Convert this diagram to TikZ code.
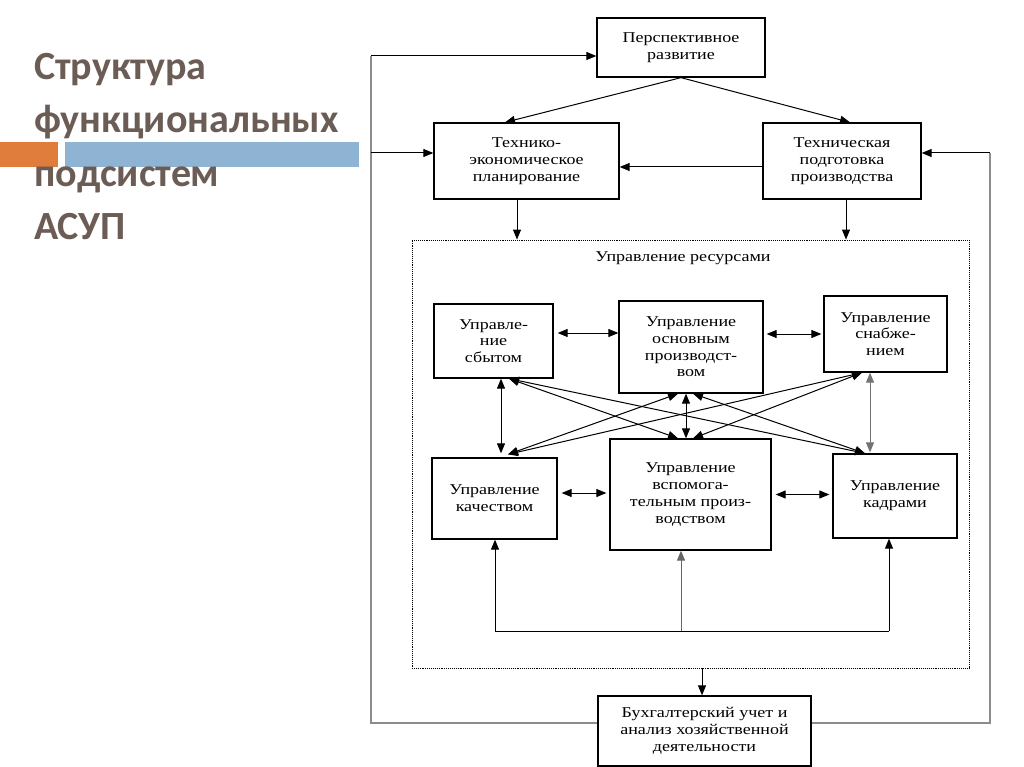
\documentclass[tikz,border=0pt]{standalone}
\usepackage{fontspec}
\setmainfont{Liberation Serif}
\newfontfamily\titlefont{Carlito}
\newfontfamily\boxfont{Liberation Serif}[FakeStretch=1.2]
\usepackage{tikz}
\usetikzlibrary{arrows.meta}
\definecolor{titlegray}{RGB}{108,92,86}
\definecolor{barorange}{RGB}{224,124,60}
\definecolor{barblue}{RGB}{143,179,211}

\begin{document}
\begin{tikzpicture}[x=1pt,y=-1pt,
  block/.style={draw,line width=1.3pt,align=center,inner sep=0pt,
    font=\boxfont\fontsize{15}{16.7}\selectfont},
  link/.style={line width=1pt,-{Triangle[length=10pt,width=8pt]}},
  both/.style={line width=1pt,
    {Triangle[length=10pt,width=8pt]}-{Triangle[length=10pt,width=8pt]}},
  loopline/.style={line width=1.6pt,black!45}]
  \useasboundingbox[fill=white] (0,0) rectangle (1024,767);

  \fill[barorange] (0,142) rectangle (58,167);
  \fill[barblue] (65,142) rectangle (359,167);
  \node[anchor=north west,inner sep=0pt,align=left,text=titlegray,
    font=\titlefont\bfseries\fontsize{40}{53.3}\selectfont] (title) at (34,53)
    {Структура\\функциональных\\подсистем\\АСУП};

  \node[block,minimum width=168pt,minimum height=59pt] (persp) at (681,47.5)
    {Перспективное\\развитие};
  \node[block,minimum width=185pt,minimum height=76pt] (tep) at (526.5,161)
    {Технико-\\экономическое\\планирование};
  \node[block,minimum width=158pt,minimum height=76pt] (tpp) at (842,161)
    {Техническая\\подготовка\\производства};

  \node[draw,densely dotted,line width=0.9pt,minimum width=557pt,
    minimum height=428pt] (res) at (690.5,454) {};
  \node[font=\boxfont\fontsize{15}{16.7}\selectfont,below=9pt] (reslabel)
    at (res.north -| 683,0) {Управление ресурсами};

  \node[block,minimum width=119pt,minimum height=74pt] (sbyt) at (493.5,341)
    {Управле-\\ние\\сбытом};
  \node[block,minimum width=144pt,minimum height=92pt] (osn) at (691,347)
    {Управление\\основным\\производст-\\вом};
  \node[block,minimum width=123pt,minimum height=76pt] (snab) at (885.5,334)
    {Управление\\снабже-\\нием};
  \node[block,minimum width=125pt,minimum height=81pt] (kach) at (494.5,498.5)
    {Управление\\качеством};
  \node[block,minimum width=161pt,minimum height=111pt] (vsp) at (690.5,494.5)
    {Управление\\вспомога-\\тельным произ-\\водством};
  \node[block,minimum width=124pt,minimum height=84pt] (kadr) at (895,496)
    {Управление\\кадрами};

  \node[block,minimum width=213pt,minimum height=70pt] (buh) at (704.5,731)
    {Бухгалтерский учет и\\анализ хозяйственной\\деятельности};

  \draw[link] (persp.south) -- ([xshift=-21.5pt]tep.north);
  \draw[link] (persp.south) -- ([xshift=8pt]tpp.north);
  \draw[link] ([yshift=-6pt]tpp.west) -- ([yshift=-6pt]tpp.west -| tep.east);
  \draw[link] ([xshift=-9.5pt]tep.south) -- ([xshift=-9.5pt]tep.south |- res.north);
  \draw[link] ([xshift=4pt]tpp.south) -- ([xshift=4pt]tpp.south |- res.north);

  \coordinate (ltop) at (371,56);
  \coordinate (lmid) at (371,153);
  \coordinate (rmid) at (990,153);
  \draw[loopline] ([yshift=8pt]buh.west) -| (ltop);
  \draw[loopline] ([yshift=8pt]buh.east) -| (rmid);
  \draw[link] (ltop) -- (ltop -| persp.west);
  \draw[link] (lmid) -- (lmid -| tep.west);
  \draw[link] (rmid) -- (rmid -| tpp.east);

  \draw[both,shorten <=4pt] ([yshift=8pt]sbyt.east) -- ([yshift=8pt]sbyt.east -| osn.west);
  \draw[both,shorten <=3pt,shorten >=2pt] (osn.east |- snab.west) -- (snab.west);
  \draw[both,shorten <=4pt,shorten >=3pt] ([yshift=5.5pt]kach.east) -- ([yshift=5.5pt]kach.east -| vsp.west);
  \draw[both,shorten <=4pt,shorten >=3pt] (vsp.east) -- (vsp.east -| kadr.west);

  \draw[both,shorten >=4pt] ([xshift=7.5pt]sbyt.south) -- ([xshift=7.5pt]sbyt.south |- kach.north);
  \draw[both] ([xshift=-5pt]osn.south) -- ([xshift=-5pt]osn.south |- vsp.north);
  \draw[both,shorten >=1pt,black!55] ([xshift=-15.5pt]snab.south) -- ([xshift=-15.5pt]snab.south |- kadr.north);

  \coordinate (s1) at ([xshift=15.5pt]sbyt.south);
  \coordinate (q1) at ([xshift=13.5pt,yshift=3pt]kach.north);
  \coordinate (o1) at ([xshift=-13pt]osn.south);
  \coordinate (o2) at ([xshift=2pt]osn.south);
  \coordinate (v1) at ([xshift=-12.5pt]vsp.north);
  \coordinate (v2) at ([xshift=2.5pt]vsp.north);
  \coordinate (n1) at ([xshift=-23.5pt]snab.south);
  \coordinate (k1) at ([xshift=-30pt]kadr.north);
  \draw[both] (s1) -- (v1);
  \draw[both] (s1) -- (k1);
  \draw[both] (q1) -- (o1);
  \draw[both] (q1) -- (n1);
  \draw[both] (n1) -- (v2);
  \draw[both] (o2) -- (k1);

  \coordinate (fl) at (495,631);
  \coordinate (fm) at (681,631);
  \coordinate (fr) at (889,631);
  \draw[line width=1pt] (fl) -- (fr);
  \draw[link] (fl) -- (fl |- kach.south);
  \draw[link,black!60] (fm) -- (fm |- vsp.south);
  \draw[link] (fr) -- (fr |- kadr.south);

  \draw[link] ([xshift=-2.5pt]buh.north |- res.south) -- ([xshift=-2.5pt]buh.north);
\end{tikzpicture}
\end{document}
